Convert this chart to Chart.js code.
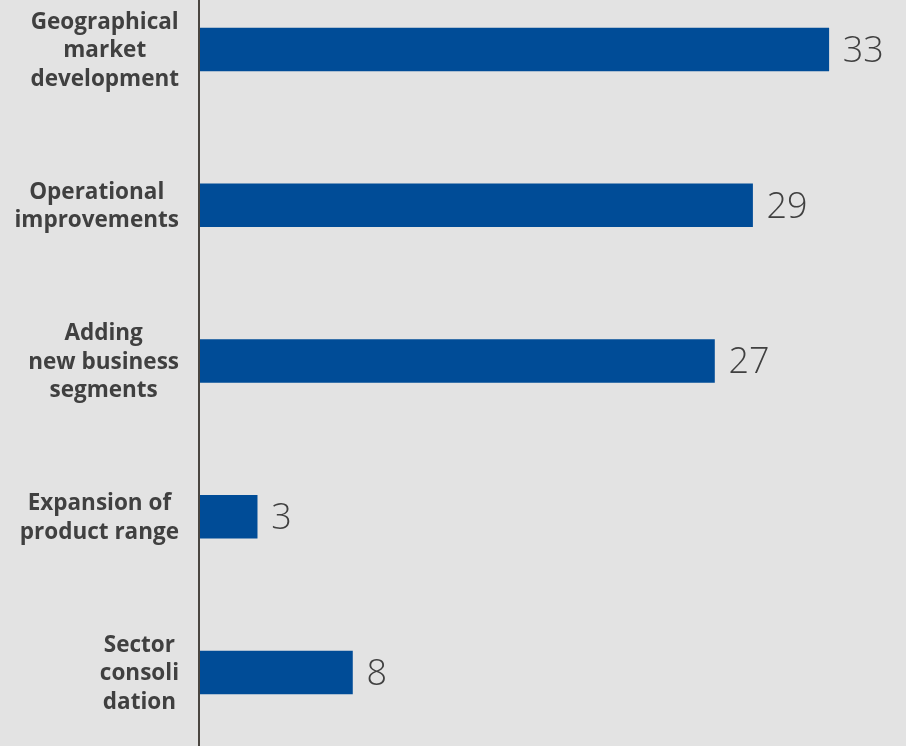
<!DOCTYPE html>
<html>
<head>
<meta charset="utf-8">
<script src="https://cdn.jsdelivr.net/npm/chart.js@4/dist/chart.umd.min.js"></script>
<style>
  html, body { margin: 0; padding: 0; background: #e3e3e3; }
  #wrap { width: 906px; height: 746px; position: relative; }
</style>
</head>
<body>
<div id="wrap"><canvas id="c" width="906" height="746"></canvas></div>
<script>
// Categories (multi-line labels) and values
const categories = [
  ["Geographical", "market", "development"],
  ["Operational", "improvements"],
  ["Adding", "new business", "segments"],
  ["Expansion of", "product range"],
  ["Sector", "consoli", "dation"]
];
const values = [33, 29, 27, 3, 8];

const BAR_COLOR = "#004c97";
const TEXT_COLOR = "#404040";
const AXIS_COLOR = "#4a4540";
const BG_COLOR = "#e3e3e3";

// Background, axis line, category labels and value labels
const decorations = {
  id: "decorations",
  beforeDraw(chart) {
    const ctx = chart.ctx;
    ctx.save();
    ctx.fillStyle = BG_COLOR;
    ctx.fillRect(0, 0, chart.width, chart.height);
    ctx.restore();
  },
  afterDatasetsDraw(chart) {
    const ctx = chart.ctx;
    const xs = chart.scales.x;
    const ys = chart.scales.y;
    const x0 = xs.getPixelForValue(0);
    ctx.save();
    // vertical axis line across the full height
    ctx.fillStyle = AXIS_COLOR;
    ctx.fillRect(x0 - 2, 0, 2, chart.height);

    // category labels: lines centered among themselves, block right-aligned
    ctx.font = "bold 22.5px 'Open Sans'";
    ctx.fillStyle = TEXT_COLOR;
    ctx.textBaseline = "middle";
    ctx.textAlign = "center";
    const lineH = 28.5;
    const rightEdge = x0 - 21;
    categories.forEach((lines, i) => {
      const cy = ys.getPixelForValue(i);
      const maxW = Math.max(...lines.map(l => ctx.measureText(l).width));
      const cx = rightEdge - maxW / 2;
      const startY = cy - (lines.length - 1) * lineH / 2;
      lines.forEach((l, k) => ctx.fillText(l, cx, startY + k * lineH + 1.5));
    });

    // value labels at bar ends
    ctx.font = "300 36px 'Open Sans'";
    ctx.textAlign = "left";
    const meta = chart.getDatasetMeta(0);
    meta.data.forEach((bar, i) => {
      ctx.fillText(String(values[i]), bar.x + 14, bar.y + 2);
    });
    ctx.restore();
  }
};

new Chart(document.getElementById("c"), {
  type: "bar",
  data: {
    labels: categories,
    datasets: [{
      data: values,
      backgroundColor: BAR_COLOR,
      borderWidth: 0,
      barThickness: 43,
      clip: false
    }]
  },
  options: {
    indexAxis: "y",
    responsive: false,
    animation: false,
    layout: { padding: { left: 200, right: 1, top: 49.5, bottom: 73.5 } },
    plugins: { legend: { display: false }, tooltip: { enabled: false } },
    scales: {
      x: { display: false, min: 0, max: 37 },
      y: { display: false, offset: false }
    }
  },
  plugins: [decorations]
});
</script>
</body>
</html>
